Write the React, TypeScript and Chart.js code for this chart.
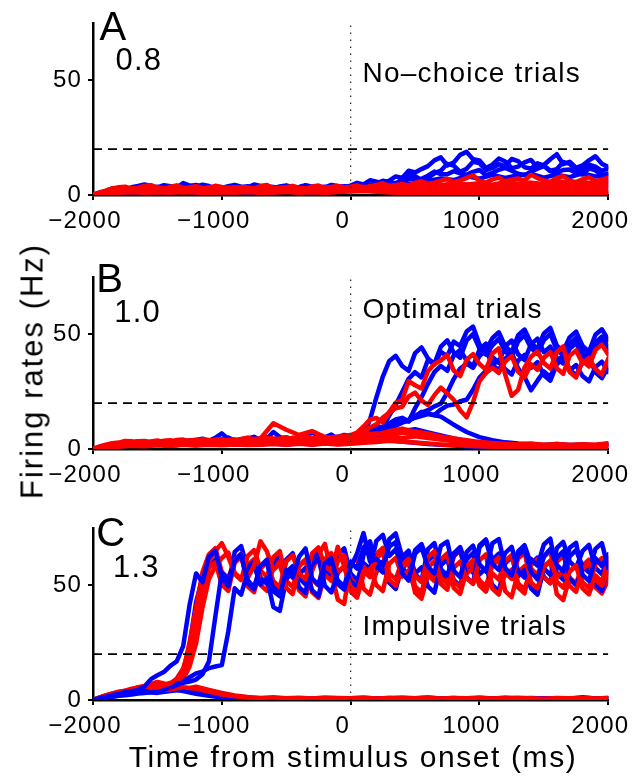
import React, { useEffect, useRef } from 'react';
import { Chart, registerables } from 'chart.js';

Chart.register(...registerables);

const FONT = '"Liberation Sans", Arial, Helvetica, sans-serif';

// Time axes (ms from stimulus onset)
const TIMES_100 = [-2000, -1900, -1800, -1700, -1600, -1500, -1400, -1300, -1200, -1100, -1000, -900, -800, -700, -600, -500, -400, -300, -200, -100, 0, 100, 200, 300, 400, 500, 600, 700, 800, 900, 1000, 1100, 1200, 1300, 1400, 1500, 1600, 1700, 1800, 1900, 2000];
const TIMES_50 = [-2000, -1950, -1900, -1850, -1800, -1750, -1700, -1650, -1600, -1550, -1500, -1450, -1400, -1350, -1300, -1250, -1200, -1150, -1100, -1050, -1000, -950, -900, -850, -800, -750, -700, -650, -600, -550, -500, -450, -400, -350, -300, -250, -200, -150, -100, -50, 0, 50, 100, 150, 200, 250, 300, 350, 400, 450, 500, 550, 600, 650, 700, 750, 800, 850, 900, 950, 1000, 1050, 1100, 1150, 1200, 1250, 1300, 1350, 1400, 1450, 1500, 1550, 1600, 1650, 1700, 1750, 1800, 1850, 1900, 1950, 2000];
const X_TICKS = [-2000, -1000, 0, 1000, 2000];
const Y_TICKS = [0, 50];
const Y_MAX = 75;
const THRESHOLD = 20;
const ONSET = 0;

// ---------- Panel A: No-choice trials ----------
const A_BLUE_1 = [0, 0.9, 1.8, 2.9, 2.6, 2.2, 3.4, 3.9, 4.6, 4.0, 3.2, 4.3, 3.8, 3.1, 5.2, 4.1, 3.6, 4.5, 3.9, 2.8, 3.1, 3.8, 4.4, 3.6, 3.3, 4.6, 3.9, 3.2, 3.0, 3.7, 4.2, 3.4, 3.5, 4.3, 3.6, 2.9, 3.2, 4.4, 3.9, 3.5, 4.1, 5.3, 4.6, 6.4, 5.8, 5.2, 6.3, 8.1, 7.4, 10.6, 9.8, 11.3, 12.6, 15.1, 16.4, 12.9, 14.2, 17.5, 18.8, 15.6, 15.1, 11.8, 13.2, 15.9, 14.6, 11.7, 12.4, 14.2, 15.3, 12.0, 13.1, 15.6, 17.8, 13.4, 14.5, 11.8, 12.9, 15.1, 16.9, 13.6, 12.2];
const A_BLUE_2 = [0, 0.7, 1.2, 1.9, 2.2, 2.8, 2.9, 2.2, 2.5, 3.1, 3.6, 3.0, 2.8, 3.5, 3.1, 3.9, 4.4, 3.3, 2.9, 3.6, 3.3, 2.5, 2.6, 3.4, 3.8, 3.0, 2.9, 3.7, 3.5, 2.6, 2.8, 3.6, 3.3, 2.5, 2.7, 3.4, 3.6, 2.8, 3.1, 3.8, 3.4, 4.6, 4.2, 4.1, 4.9, 6.2, 5.6, 5.1, 6.8, 8.9, 8.2, 6.6, 7.5, 9.4, 10.6, 13.6, 12.8, 10.1, 11.4, 14.5, 13.9, 10.9, 11.8, 13.4, 12.6, 15.7, 14.8, 12.1, 11.5, 13.8, 12.9, 10.6, 11.2, 14.4, 13.6, 11.1, 10.8, 13.2, 12.4, 10.5, 11.6];
const A_BLUE_3 = [0, 1.0, 1.5, 1.4, 2.0, 2.5, 2.6, 2.1, 3.1, 2.7, 2.4, 3.0, 2.9, 2.5, 2.2, 2.8, 3.0, 2.4, 2.7, 2.0, 2.3, 2.9, 3.4, 2.7, 2.5, 3.2, 2.8, 2.1, 2.2, 2.9, 3.1, 2.4, 2.6, 3.3, 2.4, 2.8, 2.9, 3.5, 3.2, 3.0, 3.6, 4.4, 3.9, 4.2, 4.8, 6.0, 5.4, 4.6, 5.1, 7.2, 6.6, 7.1, 8.4, 10.2, 9.1, 9.0, 10.4, 9.4, 8.8, 10.1, 10.9, 8.7, 9.6, 11.0, 11.8, 10.6, 9.3, 8.6, 10.2, 11.5, 12.6, 10.3, 9.8, 10.9, 11.1, 9.6, 8.9, 11.6, 10.7, 8.6, 9.4];
const A_BLUE_4 = [0, 1.0, 1.8, 2.2, 1.9, 2.6, 2.1, 2.4, 1.8, 2.5, 2.2, 1.9, 2.7, 2.1, 2.4, 1.8, 2.6, 2.2, 2.0, 2.8, 3.2, 3.5, 4.0, 4.6, 5.2, 4.8, 6.1, 7.2, 6.5, 8.3, 7.1, 8.8, 7.4, 8.6, 9.2, 7.6, 8.9, 7.8, 9.4, 8.1, 8.7];
const A_BLUE_5 = [0, 0.8, 1.4, 1.1, 1.7, 1.3, 1.9, 1.5, 1.2, 1.8, 1.4, 1.6, 1.1, 1.9, 1.5, 1.3, 1.7, 1.2, 1.6, 1.9, 2.2, 2.6, 2.9, 3.4, 3.1, 3.8, 3.5, 4.2, 3.9, 4.6, 4.1, 3.8, 4.4, 4.9, 4.2, 4.7, 3.9, 5.2, 4.4, 4.8, 5.4];
const A_BLUE_6 = [0, 0.6, 1.1, 1.4, 0.9, 1.3, 1.0, 1.5, 1.2, 0.9, 1.4, 1.1, 1.3, 0.8, 1.2, 1.5, 1.0, 1.3, 1.1, 1.6, 1.8, 2.1, 1.9, 1.6, 1.3, 1.0, 0.8, 0.6, 0.7, 0.5, 0.6, 0.4, 0.6, 0.5, 0.7, 0.4, 0.6, 0.5, 0.6, 0.4, 0.5];
const A_RED_1 = [0, 1.1, 1.9, 2.9, 3.4, 3.6, 2.8, 3.2, 3.9, 4.3, 3.1, 2.6, 3.6, 4.2, 2.9, 3.3, 3.8, 3.0, 3.2, 4.0, 3.5, 3.1, 2.7, 3.5, 3.3, 2.8, 3.9, 4.4, 2.9, 3.2, 3.4, 4.0, 3.1, 2.7, 3.7, 4.1, 3.0, 3.5, 3.9, 3.3, 3.6, 4.2, 3.2, 3.8, 4.4, 5.1, 3.9, 4.3, 4.8, 4.1, 5.3, 6.0, 4.9, 5.4, 6.2, 7.1, 5.6, 6.4, 7.4, 8.6, 6.1, 5.4, 6.8, 7.6, 5.9, 6.7, 7.2, 6.3, 8.8, 7.4, 6.4, 5.7, 7.5, 8.3, 6.2, 5.6, 6.9, 7.8, 6.0, 6.7, 7.6];
const A_RED_2 = [0, 1.5, 2.6, 3.1, 2.4, 3.3, 2.7, 3.0, 2.5, 3.2, 2.8, 3.4, 2.6, 2.9, 3.2, 2.5, 3.0, 2.7, 3.3, 2.8, 3.1, 3.5, 3.2, 3.9, 4.3, 3.8, 4.7, 4.2, 5.3, 4.6, 5.1, 4.5, 5.6, 4.9, 5.4, 4.8, 6.2, 5.1, 5.7, 4.9, 6.4];
const A_RED_3 = [0, 1.3, 2.1, 2.5, 2.9, 2.2, 2.6, 2.1, 2.7, 2.3, 2.0, 2.6, 2.2, 2.5, 2.1, 2.8, 2.3, 2.6, 2.2, 2.7, 2.5, 2.8, 3.1, 3.4, 3.0, 3.6, 3.3, 3.9, 3.5, 4.1, 3.7, 4.3, 3.8, 3.5, 4.2, 3.9, 4.4, 3.7, 4.0, 4.5, 4.1];
const A_RED_4 = [0, 1.1, 1.7, 2.0, 1.6, 2.1, 1.8, 2.2, 1.7, 2.0, 1.9, 1.6, 2.1, 1.8, 2.0, 1.7, 2.2, 1.9, 1.6, 2.0, 2.3, 2.6, 2.4, 2.8, 2.5, 2.9, 2.6, 3.1, 2.7, 3.0, 2.8, 3.2, 2.9, 2.6, 3.1, 2.8, 3.3, 2.9, 3.0, 2.7, 3.2];
const A_RED_5 = [0, 0.9, 1.4, 1.2, 1.6, 1.3, 1.5, 1.1, 1.4, 1.7, 1.2, 1.5, 1.3, 1.6, 1.2, 1.4, 1.1, 1.5, 1.3, 1.6, 1.9, 2.2, 1.8, 2.0, 1.7, 1.9, 1.6, 2.1, 1.8, 1.5, 1.9, 1.7, 2.0, 1.6, 1.8, 1.5, 1.9, 1.7, 1.4, 1.8, 1.6];
const A_RED_6 = [0, 0.7, 1.0, 1.3, 0.9, 1.2, 1.0, 1.4, 1.1, 0.8, 1.2, 1.0, 1.3, 0.9, 1.1, 1.4, 1.0, 1.2, 0.9, 1.3, 1.5, 1.7, 1.4, 1.1, 0.9, 1.0, 0.8, 1.0, 0.7, 0.9, 0.8, 0.6, 0.9, 0.7, 0.8, 0.6, 0.9, 0.7, 0.8, 0.6, 0.8];

// ---------- Panel B: Optimal trials ----------
const B_BLUE_1 = [
  0, 0.9, 1.6, 2.1, 2.4, 3.2, 3.0, 2.2, 2.6, 3.1,
  3.4, 2.7, 2.9, 3.5, 3.8, 3.3, 3.1, 4.2, 3.6, 4.9,
  6.8, 4.4, 3.5, 4.1, 4.6, 5.3, 3.8, 4.5, 7.4, 5.2,
  4.1, 4.6, 4.8, 5.5, 4.0, 4.4, 5.1, 6.3, 4.3, 4.9,
  5.0, 5.4, 6.2, 12.8, 22.5, 31.6, 38.4, 40.6, 36.2, 34.1,
  41.8, 44.3, 39.5, 37.2, 44.6, 47.4, 42.1, 39.8, 47.3, 50.1,
  43.8, 41.2, 45.2, 48.0, 42.6, 40.1, 46.9, 49.6, 44.1, 41.5,
  47.5, 50.2, 43.2, 40.7, 45.8, 48.5, 42.9, 40.3, 46.4, 49.0,
  44.2];
const B_BLUE_2 = [
  0, 0.8, 1.3, 1.6, 2.1, 2.6, 2.7, 3.4, 3.3, 2.6,
  2.8, 3.4, 3.5, 2.9, 3.0, 3.7, 3.9, 4.5, 3.3, 3.8,
  4.1, 5.0, 3.6, 4.2, 4.8, 4.0, 3.9, 5.1, 4.3, 4.7,
  5.0, 4.4, 4.2, 5.6, 7.2, 5.8, 4.4, 4.9, 5.3, 6.1,
  5.8, 6.5, 7.4, 9.1, 10.2, 9.3, 14.6, 19.3, 24.8, 30.6,
  33.5, 31.2, 38.9, 36.8, 42.4, 40.5, 46.8, 44.9, 51.2, 53.4,
  45.6, 43.1, 48.3, 50.9, 44.7, 42.3, 49.6, 52.1, 46.2, 43.7,
  50.4, 52.8, 45.1, 42.6, 48.7, 51.2, 44.9, 42.4, 49.8, 52.2,
  47.6];
const B_BLUE_3 = [
  0, 0.6, 1.1, 1.6, 1.9, 2.4, 2.5, 1.9, 2.2, 2.7,
  3.0, 2.4, 2.6, 3.1, 3.3, 2.7, 2.8, 3.6, 3.5, 2.9,
  3.1, 3.6, 3.8, 3.0, 3.2, 4.0, 4.4, 3.7, 3.6, 4.3,
  4.0, 3.4, 3.5, 4.2, 4.6, 3.8, 3.9, 5.0, 4.5, 4.1,
  4.8, 5.6, 6.1, 7.8, 8.4, 7.6, 11.2, 12.9, 13.6, 12.1,
  17.8, 22.6, 28.4, 33.5, 36.2, 34.1, 40.8, 43.2, 38.5, 36.1,
  43.4, 45.9, 40.1, 37.6, 44.8, 47.3, 41.3, 38.8, 45.6, 48.1,
  42.2, 44.6, 39.8, 37.3, 43.7, 46.2, 40.6, 38.1, 44.9, 47.4,
  41.8];
const B_BLUE_4 = [
  0, 0.5, 0.9, 1.4, 1.7, 2.0, 2.2, 2.6, 2.8, 2.1,
  2.4, 2.9, 3.1, 2.5, 2.7, 3.2, 3.4, 2.8, 2.9, 3.5,
  3.6, 2.9, 3.0, 3.6, 3.9, 3.1, 3.3, 4.0, 3.7, 3.0,
  3.2, 3.9, 4.1, 3.4, 3.5, 4.5, 4.3, 3.6, 3.8, 4.4,
  4.2, 4.8, 5.6, 6.0, 7.2, 8.8, 9.6, 11.9, 12.8, 12.0,
  14.5, 15.9, 16.9, 18.6, 19.8, 24.6, 30.5, 35.1, 37.2, 35.4,
  40.5, 43.0, 36.8, 34.3, 39.4, 41.9, 35.2, 31.4, 25.6, 29.8,
  33.8, 31.3, 38.2, 40.7, 34.6, 32.1, 37.9, 40.4, 33.4, 30.9,
  35.8];
const B_BLUE_5 = [
  0, 0.7, 1.2, 1.3, 1.8, 2.2, 2.4, 1.9, 2.0, 2.5,
  2.7, 2.2, 2.3, 2.8, 2.9, 2.4, 2.5, 3.0, 3.2, 2.6,
  2.7, 3.3, 3.5, 2.8, 2.9, 3.6, 3.3, 2.9, 3.8, 3.3,
  3.1, 3.7, 3.6, 2.9, 3.2, 3.8, 3.9, 3.1, 3.4, 3.9,
  3.7, 4.1, 4.9, 6.0, 6.8, 8.3, 9.2, 10.1, 11.5, 12.4,
  13.9, 16.2, 15.6, 14.8, 17.2, 18.9, 19.4, 20.8, 21.5, 25.8,
  31.2, 34.1, 36.5, 38.9, 34.8, 32.5, 38.6, 41.0, 35.4, 37.9,
  32.1, 29.8, 36.9, 39.4, 34.2, 36.6, 31.8, 29.5, 35.7, 38.1,
  33.6];
const B_BLUE_6 = [0, 1.0, 1.6, 2.1, 2.6, 2.2, 2.8, 2.4, 3.0, 2.6, 3.3, 2.8, 3.5, 3.0, 3.4, 2.9, 3.7, 3.2, 3.6, 3.1, 3.9, 5.2, 6.9, 9.4, 11.8, 13.6, 15.2, 14.1, 10.6, 7.4, 5.2, 3.8, 2.9, 2.4, 2.1, 1.8, 2.2, 1.7, 2.0, 1.6, 2.3];
const B_BLUE_7 = [0, 0.8, 1.4, 1.9, 1.6, 2.3, 1.9, 2.5, 2.1, 2.7, 2.3, 2.9, 2.4, 2.8, 2.5, 3.0, 2.6, 3.1, 2.7, 3.2, 3.4, 4.3, 5.6, 6.8, 7.9, 8.6, 7.2, 5.9, 4.6, 3.4, 2.6, 2.1, 1.8, 1.5, 1.7, 1.4, 1.6, 1.3, 1.5, 1.2, 1.6];
const B_BLUE_8 = [0, 0.6, 1.1, 1.5, 1.3, 1.8, 1.4, 2.0, 1.6, 2.2, 1.8, 2.3, 1.9, 2.1, 2.4, 1.9, 2.5, 2.0, 2.6, 2.2, 2.5, 2.9, 3.4, 3.8, 3.3, 2.7, 2.2, 1.8, 1.5, 1.2, 1.0, 0.9, 1.1, 0.8, 1.0, 0.7, 0.9, 0.8, 1.0, 0.7, 0.9];
const B_RED_1 = [
  0, 1.1, 1.9, 2.5, 2.8, 3.5, 3.4, 2.6, 2.9, 3.3,
  3.7, 3.0, 3.2, 3.9, 4.1, 3.4, 3.5, 4.3, 3.9, 3.1,
  3.3, 3.9, 4.2, 3.5, 3.6, 4.4, 4.5, 3.8, 3.9, 4.6,
  5.1, 4.2, 4.4, 5.3, 4.8, 4.0, 4.2, 5.0, 5.3, 5.8,
  6.1, 7.2, 9.8, 12.8, 13.5, 11.6, 16.2, 20.1, 21.4, 29.6,
  27.8, 26.4, 33.9, 37.1, 38.6, 41.0, 34.2, 31.8, 38.9, 41.4,
  37.1, 34.7, 41.6, 43.9, 32.4, 23.2, 25.8, 35.6, 40.2, 42.6,
  37.5, 35.1, 42.3, 44.7, 33.6, 31.2, 38.4, 36.0, 43.1, 45.5,
  41.2];
const B_RED_2 = [
  0, 0.8, 1.4, 1.9, 2.3, 2.4, 2.9, 3.4, 3.5, 2.9,
  3.0, 3.6, 3.8, 3.1, 3.2, 3.7, 4.0, 3.3, 3.4, 4.1,
  4.3, 3.6, 3.7, 4.4, 4.9, 4.2, 4.0, 4.8, 4.6, 3.9,
  4.1, 4.9, 5.2, 4.3, 4.5, 5.1, 5.0, 4.2, 4.4, 5.2,
  5.5, 6.9, 7.6, 9.4, 10.8, 13.7, 15.9, 17.8, 18.4, 22.9,
  24.6, 21.1, 19.2, 23.5, 26.8, 24.1, 21.5, 16.9, 13.8, 20.4,
  29.6, 33.1, 35.4, 33.2, 38.1, 40.5, 33.7, 31.3, 36.9, 34.5,
  39.8, 42.2, 35.2, 32.8, 40.6, 43.0, 37.3, 39.7, 34.9, 32.5,
  39.5];
const B_RED_3 = [0, 1.2, 2.0, 2.6, 2.2, 2.9, 2.5, 3.3, 2.8, 3.6, 3.0, 3.9, 3.4, 4.6, 11.2, 8.4, 6.1, 7.8, 5.2, 4.6, 5.3, 6.2, 6.8, 5.9, 7.1, 6.4, 5.2, 4.3, 3.6, 2.9, 2.4, 2.0, 1.8, 2.1, 1.6, 1.9, 1.5, 1.8, 1.4, 1.7, 2.0];
const B_RED_4 = [0, 1.0, 1.7, 2.3, 1.9, 2.6, 2.1, 2.8, 2.4, 3.1, 2.6, 3.3, 2.8, 3.2, 3.6, 3.0, 3.5, 3.1, 3.8, 3.3, 3.9, 5.1, 6.4, 7.8, 8.9, 7.6, 6.8, 5.5, 4.6, 3.8, 3.1, 2.6, 2.3, 2.0, 2.4, 1.8, 2.2, 1.7, 2.1, 1.9, 2.5];
const B_RED_5 = [0, 0.8, 1.3, 1.8, 1.5, 2.1, 1.7, 2.4, 1.9, 2.6, 2.1, 2.8, 2.2, 2.5, 2.9, 2.4, 3.0, 2.5, 3.1, 2.6, 3.0, 3.6, 4.4, 5.1, 4.7, 5.5, 4.8, 4.1, 3.5, 2.8, 2.2, 1.9, 1.6, 1.4, 1.7, 1.3, 1.5, 1.2, 1.6, 1.4, 1.8];
const B_RED_6 = [0, 0.6, 1.0, 1.4, 1.2, 1.6, 1.3, 1.8, 1.5, 1.9, 1.6, 2.0, 1.7, 1.9, 2.2, 1.8, 2.3, 1.9, 2.4, 2.0, 2.3, 2.7, 3.1, 3.6, 3.2, 2.8, 2.4, 2.0, 1.7, 1.4, 1.2, 1.0, 0.9, 1.1, 0.8, 1.0, 0.7, 0.9, 0.8, 1.0, 0.9];

// ---------- Panel C: Impulsive trials ----------
const C_BLUE_1 = [
  0, 0.8, 1.4, 2.2, 2.6, 3.5, 3.8, 4.4, 5.9, 9.1,
  10.8, 12.2, 14.9, 16.8, 23.5, 41.6, 55.2, 51.4, 62.4, 65.1,
  53.8, 49.6, 60.9, 63.4, 51.2, 48.3, 58.6, 60.2, 47.4, 45.2,
  56.8, 53.4, 62.5, 66.1, 53.1, 50.2, 59.7, 61.8, 50.6, 48.1,
  57.9, 63.9, 72.8, 60.4, 61.5, 58.7, 66.9, 68.9, 55.3, 52.1,
  63.8, 66.4, 58.1, 55.2, 67.2, 69.1, 56.4, 53.6, 64.5, 67.3,
  59.2, 56.0, 68.3, 70.2, 57.6, 54.4, 63.1, 65.7, 55.8, 52.6,
  62.7, 65.8, 58.9, 56.1, 66.4, 68.5, 54.6, 51.9, 61.8, 58.4,
  63.5];
const C_BLUE_2 = [
  0, 0.6, 1.1, 1.5, 2.0, 2.6, 2.9, 3.1, 3.6, 4.3,
  4.8, 5.3, 6.2, 7.1, 7.5, 8.0, 8.9, 11.2, 16.8, 36.5,
  55.6, 52.4, 60.8, 63.5, 52.3, 49.1, 58.4, 61.2, 49.6, 46.8,
  61.2, 64.0, 54.8, 57.6, 47.9, 45.2, 57.3, 60.4, 52.1, 49.5,
  60.2, 57.3, 66.5, 69.2, 58.3, 55.6, 70.1, 72.6, 62.4, 65.1,
  54.9, 52.0, 65.8, 68.4, 57.1, 54.3, 62.9, 65.6, 53.6, 50.8,
  66.7, 69.5, 59.4, 56.7, 64.1, 66.8, 56.2, 53.4, 61.5, 58.6,
  67.8, 70.4, 55.3, 52.5, 62.6, 65.3, 58.4, 55.7, 65.9, 68.4,
  57.2];
const C_BLUE_3 = [
  0, 0.5, 0.9, 1.4, 1.8, 2.1, 2.4, 2.8, 3.1, 3.4,
  3.9, 4.6, 5.4, 6.5, 7.8, 9.9, 11.6, 12.4, 13.9, 14.6,
  15.2, 29.8, 48.7, 45.9, 55.9, 58.6, 50.4, 53.2, 40.5, 38.9,
  52.6, 56.1, 53.2, 50.4, 58.9, 61.6, 49.8, 46.9, 55.4, 58.3,
  51.7, 49.2, 63.4, 66.0, 57.6, 60.3, 51.2, 48.4, 60.8, 63.5,
  55.1, 57.8, 49.6, 46.8, 58.7, 61.4, 52.4, 49.7, 61.3, 64.0,
  54.8, 57.5, 50.2, 47.4, 59.6, 62.3, 53.9, 56.6, 48.7, 45.9,
  57.4, 54.6, 62.1, 64.8, 52.8, 50.1, 56.9, 59.6, 50.4, 47.6,
  58.2];
const C_BLUE_4 = [
  0, 0.7, 1.2, 1.8, 2.3, 2.7, 3.1, 3.6, 4.0, 4.3,
  4.7, 5.3, 6.1, 7.6, 9.8, 24.1, 42.6, 53.5, 58.3, 61.2,
  50.9, 48.2, 64.6, 67.1, 57.2, 60.4, 53.4, 50.6, 60.1, 63.2,
  55.7, 58.4, 49.2, 46.7, 61.8, 64.9, 56.4, 53.6, 63.2, 66.1,
  55.1, 52.2, 59.7, 57.1, 69.4, 72.0, 62.8, 65.7, 57.5, 54.8,
  65.3, 68.0, 60.6, 63.4, 54.8, 52.1, 63.9, 66.7, 58.2, 55.5,
  67.4, 70.0, 61.1, 63.8, 56.5, 53.7, 64.8, 67.5, 59.3, 62.1,
  53.7, 51.0, 66.2, 68.9, 60.4, 57.6, 64.9, 67.6, 57.6, 54.9,
  61.9];
const C_BLUE_5 = [0, 1.9, 3.3, 4.1, 5.4, 6.2, 4.8, 3.9, 2.7, 1.8, 1.1, 0.8, 0.6, 0.7, 0.5, 0.6, 0.4, 0.7, 0.5, 0.6, 0.8, 1.0, 0.7, 0.9, 0.6, 0.8, 1.1, 0.7, 0.9, 0.6, 0.8, 0.7, 1.0, 0.6, 0.9, 0.7, 0.8, 0.6, 1.2, 0.7, 0.9];
const C_BLUE_6 = [0, 1.2, 2.1, 2.8, 3.6, 3.1, 3.9, 4.6, 3.8, 2.9, 1.6, 0.9, 0.5, 0.4, 0.6, 0.3, 0.5, 0.4, 0.6, 0.5, 0.7, 0.5, 0.8, 0.6, 0.4, 0.7, 0.5, 0.6, 0.8, 0.5, 0.7, 0.4, 0.6, 0.8, 0.5, 0.7, 0.6, 0.4, 0.7, 0.5, 0.6];
const C_RED_1 = [
  0, 0.9, 1.6, 2.6, 3.2, 3.7, 4.5, 5.6, 6.1, 5.2,
  5.4, 6.5, 7.2, 9.4, 13.8, 22.9, 36.4, 51.7, 60.2, 64.9,
  68.4, 62.5, 54.9, 52.3, 62.7, 65.4, 57.3, 60.1, 51.8, 49.2,
  60.4, 63.1, 55.2, 52.6, 63.9, 66.5, 58.6, 56.0, 66.8, 58.3,
  49.2, 46.5, 56.3, 53.6, 61.8, 64.4, 52.4, 49.8, 58.9, 61.5,
  54.1, 51.4, 62.3, 64.9, 50.7, 48.1, 57.6, 60.3, 53.2, 50.6,
  60.9, 63.5, 48.6, 46.0, 55.4, 52.8, 61.7, 64.3, 51.3, 48.7,
  58.2, 60.8, 53.6, 56.3, 49.8, 47.2, 57.1, 59.7, 52.5, 49.9,
  55.8];
const C_RED_2 = [
  0, 0.7, 1.3, 2.1, 2.7, 3.4, 3.9, 4.8, 5.3, 6.2,
  6.8, 6.1, 5.9, 7.8, 10.6, 18.4, 29.8, 46.2, 57.6, 60.1,
  50.3, 47.6, 59.8, 62.4, 53.1, 58.5, 69.2, 64.8, 56.7, 59.3,
  48.9, 46.2, 58.3, 60.9, 52.6, 50.0, 61.4, 64.0, 55.8, 58.4,
  47.3, 44.6, 54.6, 57.2, 50.1, 47.5, 59.4, 62.0, 53.8, 56.4,
  48.2, 45.6, 56.9, 54.2, 61.3, 63.9, 51.7, 49.1, 58.4, 61.0,
  49.9, 47.3, 55.2, 52.5, 60.6, 63.2, 50.8, 48.2, 57.3, 54.6,
  62.4, 65.0, 51.6, 49.0, 56.1, 58.7, 48.7, 46.1, 54.3, 51.6,
  60.8];
const C_RED_3 = [
  0, 1.0, 1.8, 2.8, 3.5, 4.1, 4.9, 5.4, 5.6, 6.9,
  7.9, 7.2, 6.6, 8.8, 12.4, 25.3, 40.1, 55.8, 63.5, 66.2,
  55.8, 53.1, 61.2, 63.8, 49.6, 47.0, 56.4, 53.7, 62.3, 64.9,
  51.9, 49.3, 58.7, 61.3, 47.1, 44.5, 54.6, 51.9, 60.5, 63.1,
  52.8, 50.2, 58.1, 55.4, 63.7, 66.3, 55.2, 52.6, 60.9, 63.5,
  49.5, 46.9, 57.8, 60.4, 53.4, 50.8, 62.6, 65.2, 55.1, 57.7,
  50.3, 47.7, 59.6, 62.2, 54.2, 56.8, 49.1, 46.5, 58.8, 61.4,
  53.5, 50.9, 60.2, 62.8, 55.9, 58.5, 51.4, 48.8, 59.3, 61.9,
  53.7];
const C_RED_4 = [
  0, 0.6, 1.1, 1.9, 2.4, 2.8, 3.3, 4.1, 4.6, 4.9,
  5.2, 6.6, 7.4, 8.1, 8.9, 14.6, 24.7, 40.3, 52.8, 58.4,
  61.9, 64.3, 55.4, 52.8, 58.8, 61.4, 50.2, 47.6, 57.9, 60.5,
  53.6, 56.2, 47.8, 45.2, 56.2, 63.4, 68.1, 55.7, 43.8, 41.9,
  59.4, 62.0, 48.6, 46.0, 55.9, 58.5, 51.3, 48.7, 57.4, 60.0,
  46.8, 44.2, 54.5, 51.9, 59.8, 62.4, 48.9, 46.3, 56.3, 58.9,
  52.1, 49.5, 58.7, 61.3, 47.5, 44.9, 55.8, 58.4, 50.6, 48.0,
  57.9, 60.5, 46.2, 43.6, 53.4, 50.8, 58.6, 61.2, 49.1, 46.5,
  52.4];
const C_RED_5 = [0, 2.1, 3.6, 4.4, 3.8, 5.1, 4.5, 5.6, 4.9, 3.7, 2.4, 1.6, 1.1, 0.9, 1.2, 0.8, 1.0, 0.7, 1.1, 0.9, 0.8, 1.0, 0.7, 0.9, 1.1, 0.8, 1.0, 0.7, 0.9, 0.8, 1.1, 0.7, 0.9, 1.0, 0.8, 0.6, 0.9, 0.8, 1.0, 0.7, 0.9];
const C_RED_6 = [0, 1.5, 2.9, 3.7, 4.8, 4.1, 5.3, 4.7, 5.8, 4.4, 3.1, 2.0, 1.3, 0.8, 0.6, 0.7, 0.5, 0.8, 0.6, 0.7, 0.5, 0.6, 0.8, 0.5, 0.7, 0.6, 0.8, 0.5, 0.7, 0.6, 0.9, 0.5, 0.7, 0.6, 0.8, 0.5, 0.7, 0.6, 0.5, 0.7, 0.6];

const BLUE = '#0000ff';
const RED = '#ff0000';

type TextItem = { text: string; x: number; y: number; size: number };
type Trace = { color: string; values: number[] };
type PanelSpec = {
  top: number;
  height: number;
  padTop: number;
  xAxisH: number;
  traces: Trace[];
  texts: TextItem[];
};

const blue = (values: number[]): Trace => ({ color: BLUE, values });
const red = (values: number[]): Trace => ({ color: RED, values });
const timesFor = (values: number[]) => (values.length === TIMES_50.length ? TIMES_50 : TIMES_100);

const PANELS: PanelSpec[] = [
  {
    top: 0, height: 250, padTop: 23, xAxisH: 55,
    traces: [
      red(A_RED_1), red(A_RED_2), red(A_RED_3), red(A_RED_4), red(A_RED_5), red(A_RED_6),
      blue(A_BLUE_1), blue(A_BLUE_2), blue(A_BLUE_3), blue(A_BLUE_4), blue(A_BLUE_5), blue(A_BLUE_6),
    ],
    texts: [
      { text: 'A', x: -1950, y: 67.4, size: 40 },
      { text: '0.8', x: -1825, y: 54.5, size: 31 },
      { text: 'No–choice trials', x: 92, y: 49.1, size: 28 },
    ],
  },
  {
    top: 250, height: 255, padTop: 27, xAxisH: 56,
    traces: [
      red(B_RED_1), red(B_RED_2), red(B_RED_3), red(B_RED_4), red(B_RED_5), red(B_RED_6),
      blue(B_BLUE_1), blue(B_BLUE_2), blue(B_BLUE_3), blue(B_BLUE_4), blue(B_BLUE_5), blue(B_BLUE_6), blue(B_BLUE_7), blue(B_BLUE_8),
    ],
    texts: [
      { text: 'B', x: -1975, y: 68.3, size: 40 },
      { text: '1.0', x: -1835, y: 55.2, size: 31 },
      { text: 'Optimal trials', x: 92, y: 57.0, size: 28 },
    ],
  },
  {
    top: 505, height: 271, padTop: 23, xAxisH: 76,
    traces: [
      blue(C_BLUE_1), red(C_RED_1), blue(C_BLUE_2), red(C_RED_2), blue(C_BLUE_3), red(C_RED_3),
      blue(C_BLUE_4), red(C_RED_4), red(C_RED_5), blue(C_BLUE_5), red(C_RED_6), blue(C_BLUE_6),
    ],
    texts: [
      { text: 'C', x: -1975, y: 67.0, size: 40 },
      { text: '1.3', x: -1845, y: 53.5, size: 31 },
      { text: 'Impulsive trials', x: 92, y: 28.3, size: 28 },
    ],
  },
];

const fmtTick = (v: number) => (v < 0 ? '\u2212' + Math.abs(v) : String(v));

const textPlugin = {
  id: 'panelText',
  beforeDraw(chart: any) {
    chart.ctx.letterSpacing = '1.2px';
  },
  afterDatasetsDraw(chart: any, _args: any, opts: any) {
    const { ctx, scales } = chart;
    ctx.save();
    ctx.fillStyle = '#000';
    ctx.textAlign = 'left';
    ctx.textBaseline = 'alphabetic';
    ctx.letterSpacing = '1.2px';
    for (const t of opts.items as TextItem[]) {
      ctx.font = `${t.size}px ${FONT}`;
      ctx.fillText(t.text, scales.x.getPixelForValue(t.x), scales.y.getPixelForValue(t.y));
    }
    ctx.restore();
  },
};

function buildChart(canvas: HTMLCanvasElement, spec: PanelSpec) {
  const refLines: any[] = [
    {
      data: [{ x: TIMES_100[0], y: THRESHOLD }, { x: TIMES_100[TIMES_100.length - 1], y: THRESHOLD }],
      borderColor: '#000', borderWidth: 1.6, borderDash: [9, 6],
    },
    {
      data: [{ x: ONSET, y: 0 }, { x: ONSET, y: Y_MAX }],
      borderColor: '#333', borderWidth: 1.3, borderDash: [1.4, 5.6],
    },
  ];
  const traces = spec.traces.map((t) => {
    const times = timesFor(t.values);
    return {
      data: times.map((x, i) => ({ x, y: t.values[i] })),
      borderColor: t.color,
      borderWidth: 4.5,
      borderJoinStyle: 'round',
      borderCapStyle: 'round',
    };
  });
  return new Chart(canvas, {
    type: 'line',
    data: { datasets: [...refLines, ...traces] },
    options: {
      animation: false,
      responsive: false,
      devicePixelRatio: 1,
      events: [],
      layout: { padding: { top: spec.padTop, right: 29, bottom: 0, left: 0 } },
      elements: { point: { radius: 0 }, line: { tension: 0, fill: false } },
      plugins: {
        legend: { display: false },
        tooltip: { enabled: false },
        panelText: { items: spec.texts },
      } as any,
      scales: {
        x: {
          type: 'linear',
          min: TIMES_100[0],
          max: TIMES_100[TIMES_100.length - 1],
          afterBuildTicks: (s: any) => { s.ticks = X_TICKS.map((value) => ({ value })); },
          afterFit: (s: any) => { s.height = spec.xAxisH; },
          ticks: {
            font: { family: FONT, size: 24 },
            color: '#000',
            padding: 7,
            labelOffset: -8,
            maxRotation: 0,
            autoSkip: false,
            callback: (v: any) => fmtTick(Number(v)),
          },
          grid: { display: true, drawOnChartArea: false, drawTicks: true, tickLength: 5, color: '#000', lineWidth: 2 },
          border: { display: true, color: '#000', width: 2.5 },
        },
        y: {
          type: 'linear',
          min: 0,
          max: Y_MAX,
          afterBuildTicks: (s: any) => { s.ticks = Y_TICKS.map((value) => ({ value })); },
          afterFit: (s: any) => { s.width = 93; },
          ticks: {
            font: { family: FONT, size: 24 },
            color: '#000',
            padding: 6,
            callback: (v: any) => String(v),
          },
          grid: { display: true, drawOnChartArea: false, drawTicks: true, tickLength: 5, color: '#000', lineWidth: 2 },
          border: { display: true, color: '#000', width: 2.5 },
        },
      },
    } as any,
    plugins: [textPlugin as any],
  });
}

function Panel({ spec }: { spec: PanelSpec }) {
  const ref = useRef<HTMLCanvasElement | null>(null);
  useEffect(() => {
    if (!ref.current) return;
    const chart = buildChart(ref.current, spec);
    return () => chart.destroy();
  }, [spec]);
  return (
    <canvas
      ref={ref}
      width={642}
      height={spec.height}
      style={{ position: 'absolute', left: 0, top: spec.top, width: 642, height: spec.height, display: 'block' }}
    />
  );
}

export default function App() {
  return (
    <div style={{ position: 'absolute', left: 0, top: 0, width: 642, height: 776, background: '#fff', overflow: 'hidden' }}>
      {PANELS.map((p, i) => (
        <Panel key={i} spec={p} />
      ))}
      <div
        style={{
          position: 'absolute', left: 32, top: 371, transform: 'translate(-50%, -50%) rotate(-90deg)',
          fontFamily: FONT, fontSize: 31, lineHeight: '31px', letterSpacing: '2px', whiteSpace: 'nowrap', color: '#000',
        }}
      >
        Firing rates (Hz)
      </div>
      <div
        style={{
          position: 'absolute', left: 353, top: 742, transform: 'translateX(-50%)',
          fontFamily: FONT, fontSize: 30, lineHeight: '30px', letterSpacing: '1.6px', whiteSpace: 'nowrap', color: '#000',
        }}
      >
        Time from stimulus onset (ms)
      </div>
    </div>
  );
}
